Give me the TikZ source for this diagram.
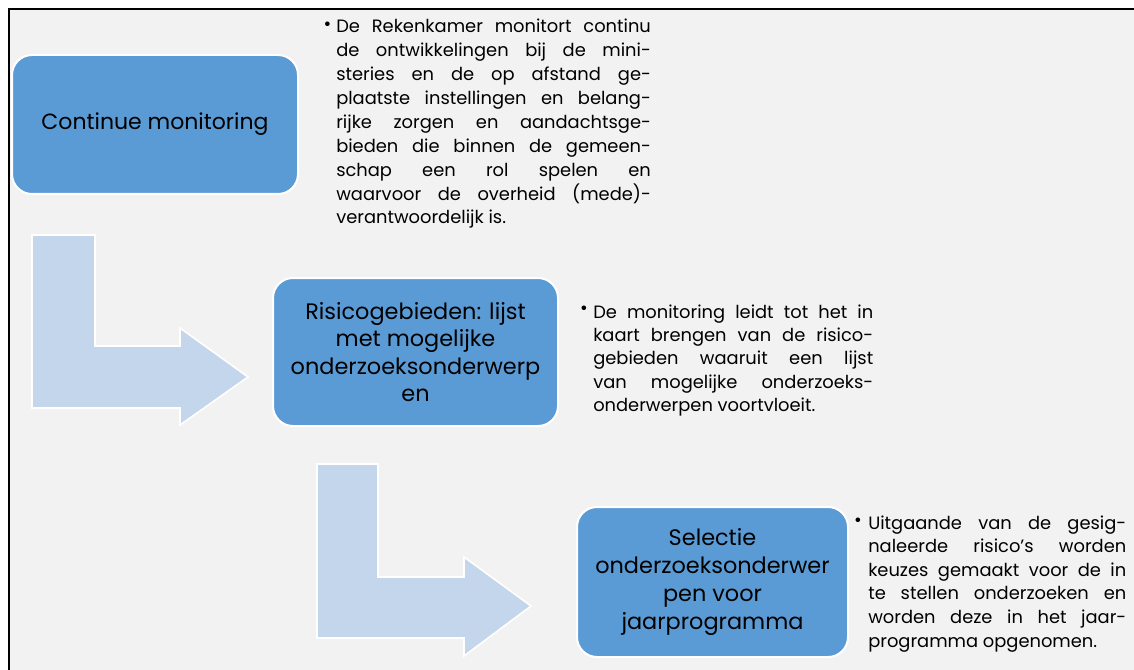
\documentclass[tikz,border=0pt]{standalone}
\usepackage{fontspec}
\setmainfont{Poppins}
\definecolor{bg}{RGB}{242,242,242}
\definecolor{boxblue}{RGB}{91,155,213}
\definecolor{arrowblue}{RGB}{196,214,235}
\newcommand\jline[1]{\hbox to \hsize{#1}}
\newcommand\lline[1]{\hbox{#1}}
\begin{document}
\begin{tikzpicture}[x=0.75pt,y=-0.75pt,
  stagebox/.style={rectangle, rounded corners=15pt, fill=boxblue, draw=white, line width=1.5pt, align=center, inner sep=0pt},
  bendarrow/.style={fill=arrowblue, draw=white, line width=1.2pt, line join=miter},
  bodytext/.style={anchor=base west, inner sep=0pt, font=\fontsize{13.4}{17.9}\selectfont},
  bulletmark/.style={inner sep=0pt, font=\fontsize{14}{14}\selectfont}]
\useasboundingbox (0,0) rectangle (1134,670);
\fill[white] (0,0) rectangle (1134,670);
\fill[bg] (9,9) rectangle (1134,670);
\draw[line width=1.9pt] (9,672) -- (9,9) -- (1136,9);

% bent arrows
\draw[bendarrow] (32,235) -- (95,235) -- (95,346) -- (180,346) -- (180,328) -- (248,377) -- (180,425) -- (180,408) -- (32,408) -- cycle;
\draw[bendarrow] (317,464) -- (378,464) -- (378,577) -- (464,577) -- (464,557) -- (531,606) -- (464,656) -- (464,638) -- (317,638) -- cycle;

% boxes
\node[stagebox, minimum width=214.5pt, minimum height=104.25pt, font=\fontsize{16.5}{20}\selectfont] (b1) at (155,124.5) {Continue monitoring};
\node[stagebox, minimum width=213.75pt, minimum height=111pt, font=\fontsize{16.8}{20.6}\selectfont] (b2) at (415.5,352) {Risicogebieden: lijst\\met mogelijke\\onderzoeksonderwerp\\en};
\node[stagebox, minimum width=203.25pt, minimum height=112.5pt, font=\fontsize{16.8}{21.2}\selectfont] (b3) at (712.5,582) {Selectie\\onderzoeksonderwer\\pen voor\\jaarprogramma};

% bullet texts
\node[bulletmark] (d1) at (327.5,26) {\textbullet};
\node[bodytext] (t1) at (336,33) {\vtop{\hsize=236pt
\jline{De Rekenkamer monitort continu}
\jline{de ontwikkelingen bij de mini-}
\jline{steries en de op afstand ge-}
\jline{plaatste instellingen en belang-}
\jline{rijke zorgen en aandachtsge-}
\jline{bieden die binnen de gemeen-}
\jline{schap een rol spelen en}
\jline{waarvoor de overheid (mede)-}
\lline{verantwoordelijk is.}}};

\node[bulletmark] (d2) at (584,310) {\textbullet};
\node[bodytext, font=\fontsize{13.4}{17.6}\selectfont] (t2) at (593,318) {\vtop{\hsize=210pt
\jline{De monitoring leidt tot het in}
\jline{kaart brengen van de risico-}
\jline{gebieden waaruit een lijst}
\jline{van mogelijke onderzoeks-}
\lline{onderwerpen voortvloeit.}}};

\node[bulletmark] (d3) at (858,522) {\textbullet};
\node[bodytext, font=\fontsize{13.4}{17.7}\selectfont] (t3) at (868,529) {\vtop{\hsize=193.5pt
\jline{Uitgaande van de gesig-}
\jline{naleerde risico’s worden}
\jline{keuzes gemaakt voor de in}
\jline{te stellen onderzoeken en}
\jline{worden deze in het jaar-}
\lline{programma opgenomen.}}};
\end{tikzpicture}
\end{document}
